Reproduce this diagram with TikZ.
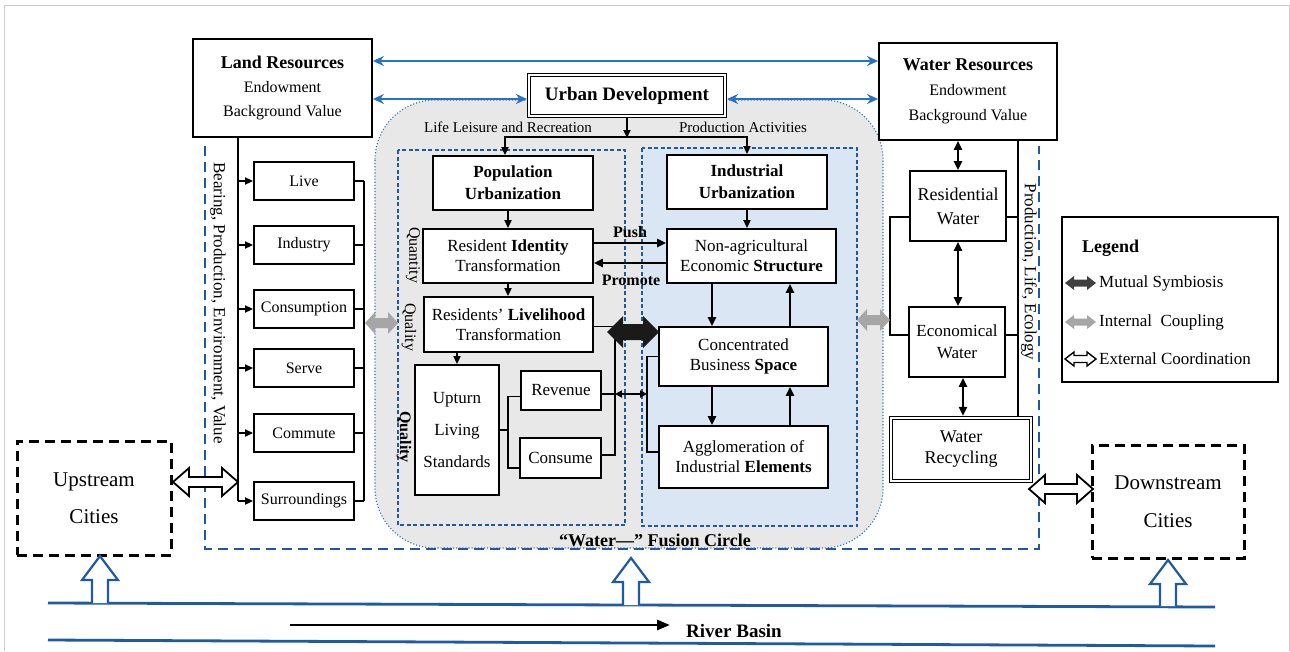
\documentclass[tikz,border=0pt]{standalone}
\usepackage{fontspec}
\setmainfont{Liberation Serif}
\usetikzlibrary{arrows.meta,calc}
\definecolor{bluearr}{HTML}{2672C8}
\definecolor{dashblue}{HTML}{1F5AA0}
\definecolor{dotblue}{HTML}{2E6FB5}
\definecolor{river}{HTML}{1F5BA5}
\definecolor{regiongray}{HTML}{E8E8E8}
\definecolor{lightblue}{HTML}{DAE6F3}
\definecolor{symb}{HTML}{1A1A1A}
\definecolor{coup}{HTML}{A6A6A6}
\definecolor{legsymb}{HTML}{404040}
\newcommand\fsz[2]{\fontsize{#1}{#2}\selectfont}
% #1 style, #2 x1, #3 x2, #4 y, #5 head length, #6 head half width, #7 shaft half width
\newcommand\hdblarrow[7]{\path[#1] (#2,#4) -- ({#2+#5},{#4-#6}) -- ({#2+#5},{#4-#7}) -- ({#3-#5},{#4-#7}) -- ({#3-#5},{#4-#6}) -- (#3,#4) -- ({#3-#5},{#4+#6}) -- ({#3-#5},{#4+#7}) -- ({#2+#5},{#4+#7}) -- ({#2+#5},{#4+#6}) -- cycle;}
% #1 x, #2 base y, #3 tip y, #4 head len, #5 head half, #6 shaft half
\newcommand\uparrowhollow[6]{\path[draw=river, line width=2.2pt, fill=white, line join=miter] ({#1-#6},#2) -- ({#1-#6},{#3+#4}) -- ({#1-#5},{#3+#4}) -- (#1,#3) -- ({#1+#5},{#3+#4}) -- ({#1+#6},{#3+#4}) -- ({#1+#6},#2);}
\tikzset{
 sz/.style 2 args={minimum width=#1pt, minimum height=#2pt},
 box/.style={draw, line width=1.8pt, fill=white, align=center, inner sep=0pt, font=\fsz{17}{20}},
 dbox/.style={box, double, double distance=2pt, line width=1.1pt},
 arr/.style={line width=1.7pt, -{Triangle[length=8pt,width=7pt]}},
 tarr/.style={line width=2.3pt, -{Triangle[length=9pt,width=8pt]}},
 darr/.style={line width=2.3pt, {Triangle[length=9pt,width=8pt]}-{Triangle[length=9pt,width=8pt]}},
 sarr/.style={line width=1.7pt, {Triangle[length=7pt,width=7pt]}-{Triangle[length=7pt,width=7pt]}},
 conn/.style={line width=1.7pt},
 bluearrow/.style={line width=2.6pt, draw=bluearr, {Stealth[length=11pt,width=10pt]}-{Stealth[length=11pt,width=10pt]}},
 cdash/.style={draw, line width=3pt, dash pattern=on 10pt off 6pt, align=center, inner sep=0pt},
 lbl/.style={inner sep=0pt, font=\fsz{15}{18}},
 smallbox/.style={box, sz={100}{38}, font=\fsz{16}{19}},
}
\begin{document}
\begin{tikzpicture}[x=1pt,y=-1pt]
\useasboundingbox (0,0) rectangle (1290,651);
% frame
\draw[black!20, line width=1pt] (4,651) -- (4,5) -- (1289,5) -- (1289,651);
% fusion circle region
\path[fill=regiongray, draw=dotblue, line width=1.1pt, dotted, rounded corners=60pt] (375,100) rectangle (883,548);
\path[draw=dashblue, line width=1.5pt, dash pattern=on 4pt off 2.5pt] (398,150) rectangle (625,525);
\path[fill=lightblue, draw=dashblue, line width=1.5pt, dash pattern=on 4pt off 2.5pt] (642,148) rectangle (857,526);
% big dashed U
\draw[dashblue, line width=2.6pt, dash pattern=on 10pt off 6pt] (205,146) -- (205,549) -- (1039,549) -- (1039,146);

% helper coordinates
\coordinate (y61) at (0,61);
\coordinate (y99) at (0,99);
\coordinate (y243) at (0,243);
\coordinate (y263) at (0,263);
\coordinate (trunk) at (238,137);
\coordinate (x364) at (364,0);
\coordinate (x508) at (508,0);
\coordinate (x615) at (615,0);
\coordinate (x647) at (647,0);
\coordinate (x712) at (712,0);
\coordinate (x790) at (790,0);
\coordinate (x890) at (890,0);
\coordinate (x963) at (963,0);
\coordinate (x1018) at (1018,0);
\coordinate (split) at (627,137);

% main boxes
\node[box, sz={179}{98}, font=\fsz{16}{24}] (LR) at (282.5,88) {{\fsz{18}{24}\bfseries Land Resources}\\Endowment\\Background Value};
\node[box, sz={178}{97}, font=\fsz{16}{25}] (WRs) at (968,91.5) {{\fsz{18}{25}\bfseries Water Resources}\\Endowment\\Background Value};
\node[dbox, sz={196}{41}, font=\fsz{19}{22}\bfseries] (UD) at (627,95.5) {Urban Development};

% left column
\node[smallbox] (Live) at (304,181) {Live};
\node[smallbox] (Ind) at (304,245) {Industry};
\node[smallbox] (Con) at (304,309) {Consumption};
\node[smallbox] (Srv) at (304,368) {Serve};
\node[smallbox] (Com) at (304,433) {Commute};
\node[smallbox] (Sur) at (304,501) {Surroundings};

% middle
\node[box, sz={160}{54}, font=\fsz{17}{22}\bfseries] (PU) at (513,183) {Population\\Urbanization};
\node[box, sz={160}{54}, font=\fsz{17}{22}\bfseries] (IU) at (747,182) {Industrial\\Urbanization};
\node[box, sz={170}{54}] (RI) at (508,256) {Resident \textbf{Identity}\\Transformation};
\node[box, sz={169}{54}] (NA) at (751.5,256) {Non-agricultural\\Economic \textbf{Structure}};
\node[box, sz={169}{55}] (RL) at (508.5,324.5) {Residents' \textbf{Livelihood}\\Transformation};
\node[box, sz={84}{130}, font=\fsz{17}{32}] (UL) at (457,430) {Upturn\\Living\\Standards};
\node[box, sz={80}{39}] (RV) at (561,390.5) {Revenue};
\node[box, sz={81}{40}] (CS) at (560.5,458) {Consume};
\node[box, sz={169}{59}] (CBS) at (743.5,356.5) {Concentrated\\Business \textbf{Space}};
\node[box, sz={169}{62}] (AG) at (743.5,457) {Agglomeration of\\Industrial \textbf{Elements}};

% water side
\node[box, sz={96}{70}, font=\fsz{18}{24}] (ResW) at (958,206) {Residential\\Water};
\node[box, sz={96}{70}, font=\fsz{17}{22}] (EcW) at (957,342) {Economical\\Water};
\node[dbox, sz={140}{63}, font=\fsz{18}{21}] (WRec) at (961,449.5) {Water\\Recycling};

% cities
\node[cdash, sz={154}{114}, font=\fsz{21}{37}] (UC) at (94,498) {Upstream\\Cities};
\node[cdash, sz={152}{113}, font=\fsz{21}{38}] (DC) at (1168,501.5) {Downstream\\Cities};

% labels
\node[lbl] (lifel) at (508,127) {Life Leisure and Recreation};
\node[lbl] (prodl) at (743,127) {Production Activities};
\node[lbl, font=\fsz{16}{18}\bfseries] (push) at (630,232) {Push};
\node[lbl, font=\fsz{16}{18}\bfseries] (prom) at (631,280) {Promote};
\node[lbl, rotate=-90, font=\fsz{17}{20}] (bpev) at (218,303) {Bearing, Production, Environment, Value};
\node[lbl, rotate=-90, font=\fsz{17}{20}] (ple) at (1029,272) {Production, Life, Ecology};
\node[lbl, rotate=-90, font=\fsz{16}{18}] (qty) at (413,255) {Quantity};
\node[lbl, rotate=-90, font=\fsz{16}{18}] (ql1) at (409,327) {Quality};
\node[lbl, rotate=-90, font=\fsz{16}{18}\bfseries] (ql2) at (404,437) {Quality};
\node[lbl, font=\fsz{18}{20}\bfseries] (fus) at (655,540) {“Water—” Fusion Circle};

% blue arrows
\draw[bluearrow] (LR.east |- y61) -- (WRs.west |- y61);
\draw[bluearrow, shorten >=1.5pt] (LR.east |- y99) -- (UD.west |- y99);
\draw[bluearrow, shorten <=1.5pt] (UD.east |- y99) -- (WRs.west |- y99);

% urban development split
\draw[arr, shorten >=-1pt] ([yshift=-1.5pt]UD.south) -- (split);
\draw[arr] (split) -| ([xshift=-8pt]PU.north);
\draw[arr] (split) -| (IU.north);
\draw[arr] (PU.south -| RI.north) -- (RI.north);
\draw[arr] (RI.south) -- (RI.south |- RL.north);
\draw[arr] (RL.south -| UL.north) -- (UL.north);
\draw[arr] (IU.south) -- (IU.south |- NA.north);

% push / promote
\draw[tarr] (RI.east |- y243) -- (NA.west |- y243);
\draw[tarr] (NA.west |- y263) -- (RI.east |- y263);

% industrial chain
\draw[tarr] (NA.south -| x712) -- (CBS.north -| x712);
\draw[tarr] (CBS.north -| x790) -- (NA.south -| x790);
\draw[tarr] (CBS.south -| x712) -- (AG.north -| x712);
\draw[tarr] (AG.north -| x790) -- (CBS.south -| x790);

% left trunk
\draw[conn] (LR.south -| trunk) -- (Sur.west -| trunk);
\foreach \b in {Live,Ind,Con,Srv,Com,Sur} {
  \draw[arr] (\b.west -| trunk) -- (\b.west);
  \draw[conn] (\b.east) -- (\b.east -| x364);
}
\draw[conn] (Live.east -| x364) -- (Sur.east -| x364);

% upturn bracket
\coordinate (rvl) at ([yshift=-6pt]RV.west);
\coordinate (csl) at ([yshift=-10pt]CS.west);
\draw[conn] (UL.east) -- (UL.east -| x508);
\draw[conn] (rvl) -- (rvl -| x508) -- (csl -| x508) -- (csl);

% right of livelihood / revenue / consume
\coordinate (rll) at ([yshift=-2pt]RL.east);
\coordinate (csr) at ([yshift=3pt]CS.east);
\coordinate (rvr) at ([yshift=-3.5pt]RV.east);
\draw[conn] (rll) -- (rll -| x615) -- (csr -| x615) -- (csr);
\draw[conn] (rvr) -- (rvr -| x615);
\draw[sarr] (rvr -| x615) -- (rvr -| x647);
\coordinate (agl) at ([yshift=5pt]AG.west);
\draw[conn] (CBS.west) -- (CBS.west -| x647) -- (agl -| x647) -- (agl);

% water connectors
\draw[darr] (WRs.south -| ResW.north) -- (ResW.north);
\draw[darr] (ResW.south) -- (ResW.south |- EcW.north);
\draw[darr] (EcW.south -| x963) -- ([yshift=1.5pt]WRec.north -| x963);
\coordinate (rwl) at ([yshift=-11pt]ResW.west);
\coordinate (ewl) at ([yshift=7pt]EcW.west);
\coordinate (rwr) at ([yshift=-11pt]ResW.east);
\coordinate (ewr) at ([yshift=7pt]EcW.east);
\draw[conn] (rwl) -- (rwl -| x890) -- (ewl -| x890) -- (ewl);
\draw[conn] (WRs.south -| x1018) -- ([yshift=1.5pt]WRec.north -| x1018);
\draw[conn] (rwr) -- (rwr -| x1018);
\draw[conn] (ewr) -- (ewr -| x1018);

% block arrows
\hdblarrow{fill=coup}{365}{398}{323}{10}{11}{5}
\hdblarrow{fill=coup}{857}{890}{320}{10}{11}{5}
\hdblarrow{fill=symb}{607}{659}{332}{16}{16}{8}
\hdblarrow{draw, line width=1.8pt, fill=white, line join=miter}{173}{238}{482}{16}{14}{5}
\hdblarrow{draw, line width=1.8pt, fill=white, line join=miter}{1029}{1093}{489}{16}{14}{5}

% legend
\node[draw, line width=1.8pt, sz={216}{165}] (LG) at (1170,299.5) {};
\node[anchor=west, inner sep=0pt, font=\fsz{18}{20}\bfseries] (LGt) at (1082,248) {Legend};
\hdblarrow{fill=legsymb}{1065}{1096}{283}{9}{7}{3.5}
\hdblarrow{fill=coup}{1065}{1096}{322}{9}{7}{3.5}
\hdblarrow{draw, line width=1.4pt, fill=white, line join=miter}{1065}{1096}{359}{9}{7}{3.5}
\node[anchor=west, inner sep=0pt, font=\fsz{17}{20}] (L1) at (1099,283) {Mutual Symbiosis};
\node[anchor=west, inner sep=0pt, font=\fsz{17}{20}] (L2) at (1099,322) {Internal\ \ Coupling};
\node[anchor=west, inner sep=0pt, font=\fsz{17}{20}] (L3) at (1099,359) {External Coordination};

% river basin
\draw[river, line width=2.8pt] (48,603) -- (1215,607);
\draw[river, line width=2.8pt] (48,640) -- (1215,646);
\uparrowhollow{100}{603}{556}{24}{18}{8}
\uparrowhollow{631}{605}{558}{24}{18}{8}
\uparrowhollow{1168}{606}{560}{24}{18}{8}
\coordinate (rbs) at (290,625);
\coordinate (rbe) at (670,625);
\draw[line width=2.8pt, -{Triangle[length=13pt,width=10pt]}] (rbs) -- (rbe);
\node[anchor=west, inner sep=0pt, font=\fsz{19}{22}\bfseries] (RB) at (686,631) {River Basin};
\end{tikzpicture}
\end{document}
